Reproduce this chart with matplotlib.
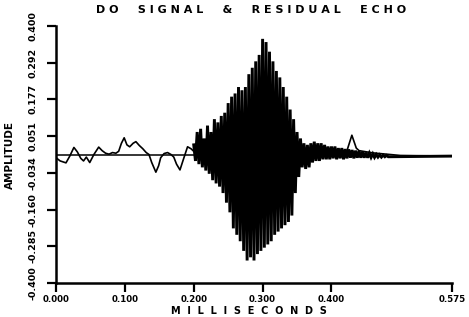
import numpy as np
import matplotlib
matplotlib.use("Agg")
import matplotlib.pyplot as plt

# ---------------- data ----------------
title = "D O     S I G N A L     &     R E S I D U A L     E C H O"
x_label = "M  I  L  L  I  S  E  C  O  N  D  S"
y_label = "AMPLITUDE"

x_ticks = [0.0, 0.1, 0.2, 0.3, 0.4, 0.575]
x_tick_labels = ["0.000", "0.100", "0.200", "0.300", "0.400", "0.575"]
y_tick_labels = ["-0.400", "-0.285", "-0.160", "-0.034", "0.051", "0.177", "0.292", "0.400"]

# DO signal: flat before the burst, then sampled oscillation
do_pre_t = [0.0, 0.200]
do_pre_v = [0.0, 0.0]
do_start = 0.200
do_dt = 0.0025
do_burst = [
    0.03, -0.02, 0.07, -0.03, 0.08, -0.04, 0.05, -0.05, 0.09, -0.06,
    0.07, -0.08, 0.11, -0.09, 0.10, -0.10, 0.12, -0.12, 0.13, -0.15,
    0.16, -0.18, 0.18, -0.23, 0.19, -0.25, 0.21, -0.27, 0.20, -0.30,
    0.21, -0.33, 0.25, -0.32, 0.27, -0.33, 0.29, -0.31, 0.31, -0.30,
    0.36, -0.29, 0.35, -0.28, 0.32, -0.27, 0.29, -0.25, 0.26, -0.24,
    0.24, -0.23, 0.21, -0.22, 0.18, -0.21, 0.14, -0.19, 0.11, -0.12,
    0.07, -0.07, 0.05, -0.04,
    0.035, -0.045, 0.03, -0.04, 0.035, -0.025, 0.04, -0.02, 0.035, -0.02,
    0.035, -0.015, 0.03, -0.015, 0.025, -0.015, 0.025, -0.012, 0.025, -0.015,
    0.02, -0.012, 0.02, -0.015, 0.017, -0.012, 0.016, -0.01, 0.014, -0.012,
    0.012, -0.01, 0.01, -0.01, 0.008, -0.01, 0.006, -0.01, 0.004, -0.009,
    0.002, -0.009, 0.0, -0.008, -0.001, -0.008, -0.002, -0.007, -0.003, -0.007,
]
do_end_t = [0.575]
do_end_v = [-0.005]

# residual echo
res_t = [0.000, 0.006, 0.0145, 0.020, 0.026, 0.031, 0.036, 0.040, 0.044, 0.049,
         0.055, 0.062, 0.067, 0.072, 0.077, 0.082, 0.087, 0.091, 0.095, 0.099,
         0.103, 0.107, 0.112, 0.116, 0.121, 0.126, 0.131, 0.135, 0.139, 0.145,
         0.149, 0.152, 0.157, 0.162, 0.167, 0.171, 0.175, 0.180, 0.185, 0.191,
         0.196, 0.200, 0.220, 0.300, 0.360, 0.400, 0.418, 0.4225, 0.4296, 0.436,
         0.440, 0.460, 0.500, 0.575]
res_v = [-0.010, -0.020, -0.026, -0.005, 0.022, 0.008, -0.012, -0.020, -0.008, -0.025,
         0.000, 0.023, 0.012, 0.004, 0.001, 0.006, 0.004, 0.010, 0.035, 0.052,
         0.030, 0.024, 0.035, 0.040, 0.028, 0.018, 0.006, 0.000, -0.025, -0.055,
         -0.035, -0.010, 0.003, 0.006, 0.000, -0.008, -0.030, -0.048, -0.015, 0.024,
         0.018, 0.010, 0.000, 0.000, 0.010, 0.012, 0.010, 0.012, 0.060, 0.020,
         0.012, 0.005, -0.003, -0.005]

# ---------------- plot ----------------
plt.rcParams['font.family'] = ['DejaVu Sans']
plt.rcParams['font.weight'] = 'bold'

fig = plt.figure(figsize=(4.69, 3.17), dpi=100)
W, H = 469, 317
ax = fig.add_axes([56 / W, 34 / H, (452 - 56) / W, (283 - 26) / H])

burst_t = do_start + do_dt * np.arange(len(do_burst))

ax.plot(do_pre_t, do_pre_v, color='black', lw=1.1)
ax.plot(np.concatenate([burst_t, do_end_t]), np.concatenate([do_burst, do_end_v]),
        color='black', lw=2.1, solid_joinstyle='miter')
ax.plot(res_t, res_v, color='black', lw=1.2)

ax.set_xlim(0, 0.575)
ax.set_ylim(-0.4, 0.4)

for s in ['top', 'right']:
    ax.spines[s].set_visible(False)
for s in ['left', 'bottom']:
    ax.spines[s].set_linewidth(1.8)

ax.set_xticks(x_ticks)
ax.set_xticklabels(x_tick_labels, fontsize=6.2, fontweight='bold')
ax.set_yticks(np.linspace(-0.4, 0.4, len(y_tick_labels)))
ax.set_yticklabels(y_tick_labels, rotation=90, va='center', fontsize=6.8, fontweight='bold')
ax.tick_params(axis='both', direction='out', length=6.5, width=1.6)
ax.tick_params(axis='x', pad=2)
ax.tick_params(axis='y', pad=7)

fig.text(251 / W, 1 - 10 / H, title, ha='center', va='center', fontsize=8, fontweight='bold')
fig.text(249 / W, 1 - 311 / H, x_label, ha='center', va='center', fontsize=7, fontweight='bold')
fig.text(10 / W, 1 - 155 / H, y_label, ha='center', va='center', rotation=90, fontsize=7.5, fontweight='bold')

fig.savefig("out.png", dpi=100)
